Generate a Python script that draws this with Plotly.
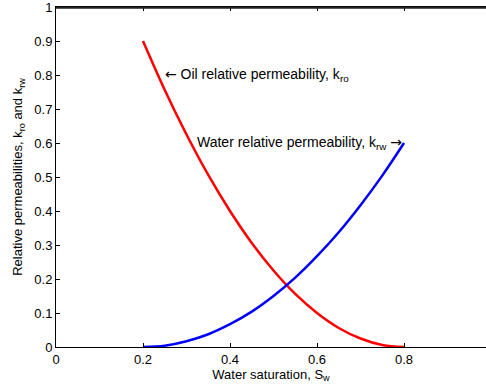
import plotly.graph_objects as go

sw = [0.2, 0.25, 0.3, 0.35, 0.4, 0.45, 0.5, 0.55, 0.6, 0.65, 0.7, 0.75, 0.8]
kro = [0.9, 0.756, 0.625, 0.506, 0.4, 0.306, 0.225, 0.156, 0.1, 0.056, 0.025, 0.006, 0.0]
krw = [0.0, 0.004, 0.017, 0.0375, 0.067, 0.104, 0.15, 0.204, 0.267, 0.3375, 0.417, 0.504, 0.6]

xticks = [0, 0.2, 0.4, 0.6, 0.8]
yticks = [0, 0.1, 0.2, 0.3, 0.4, 0.5, 0.6, 0.7, 0.8, 0.9, 1]

font = "Liberation Sans, Arial, sans-serif"
arrow_l = '<span style="font-family:DejaVu Sans">←</span>'
arrow_r = '<span style="font-family:DejaVu Sans">→</span>'
xrange = [0, 430 / 435]

fig = go.Figure()
fig.add_trace(go.Scatter(x=sw, y=kro, mode="lines", line=dict(color="#ff0000", width=2.5, shape="spline"), showlegend=False))
fig.add_trace(go.Scatter(x=sw, y=krw, mode="lines", line=dict(color="#0000ff", width=2.5, shape="spline"), showlegend=False))

fig.update_layout(
    width=486, height=391,
    margin=dict(l=56, r=0, t=7, b=44),
    plot_bgcolor="white", paper_bgcolor="white",
    font=dict(family=font, size=13, color="black"),
    xaxis=dict(range=xrange, tickvals=xticks, ticktext=[str(v) for v in xticks],
               ticks="inside", ticklen=4, tickcolor="black", showline=True, linecolor="black",
               linewidth=1, mirror="ticks", showgrid=False, zeroline=False,
               tickfont=dict(size=13),
               title=dict(text="Water saturation, S<sub>w</sub>", font=dict(size=13), standoff=2)),
    yaxis=dict(range=[0, 1], tickvals=yticks, ticktext=[str(v) for v in yticks],
               ticks="inside", ticklen=4, tickcolor="black", showline=True, linecolor="black",
               linewidth=1, showgrid=False, zeroline=False, ticklabeloverflow="allow",
               tickfont=dict(size=13),
               title=dict(text="Relative permeabilities, k<sub>ro</sub> and k<sub>rw</sub>", font=dict(size=13), standoff=8)),
)

# top frame line of the axes box
fig.add_shape(type="line", xref="paper", yref="paper", x0=0, x1=1, y0=0.998, y1=0.998,
              line=dict(color="#222222", width=2), layer="above")

fig.add_annotation(x=0.245, y=0.8, xref="x", yref="y", text=arrow_l + " Oil relative permeability, k<sub>ro</sub>",
                   showarrow=False, xanchor="left", yanchor="middle", font=dict(size=14))
fig.add_annotation(x=0.8, y=0.6, xref="x", yref="y", text="Water relative permeability, k<sub>rw</sub> " + arrow_r,
                   showarrow=False, xanchor="right", yanchor="middle", font=dict(size=14))

fig.write_html("out.html")
